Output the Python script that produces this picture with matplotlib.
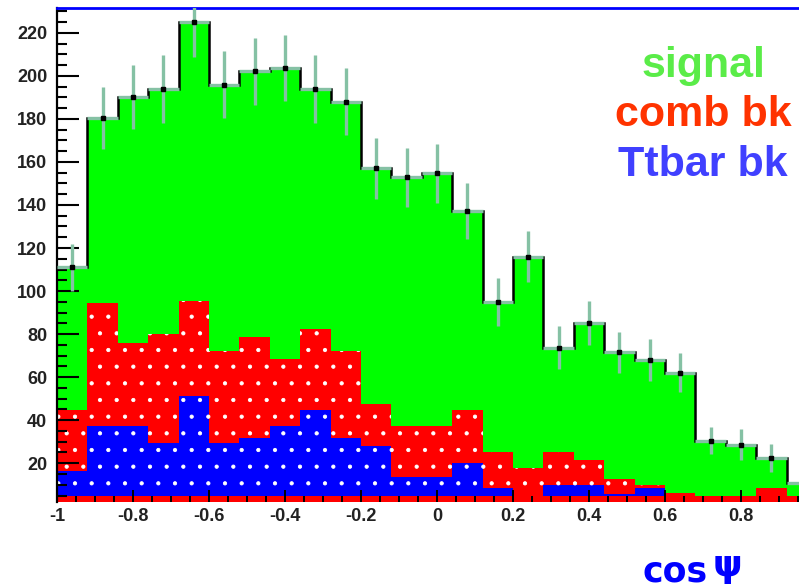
import numpy as np
import matplotlib
matplotlib.use("Agg")
import matplotlib.pyplot as plt
from matplotlib.ticker import FixedLocator, MultipleLocator

# 25 bins of width 0.08 in cos(psi)
edges = np.linspace(-1.0, 1.0, 26)

# signal (total) with error bars
signal = [111, 180.5, 190, 193.8, 225, 195.8, 202, 203.6, 193.8, 188,
          157, 152.9, 154.7, 137.2, 95, 116, 73.6, 85.3, 71.5, 67.9,
          62, 30.5, 28.7, 22.6, 11]
signal_err = [11, 14.4, 14.9, 15.9, 16.1, 15.5, 15.5, 15.5, 15.7, 15.6,
              14.2, 13.7, 13.7, 13.1, 11.1, 11.9, 10, 10.2, 9.5, 9.7,
              9.0, 6.2, 7.0, 6.5, 5.6]
# combinatorial background
comb_bk = [44.7, 94.6, 76, 80, 95.3, 72, 78.6, 68.4, 82.3, 72,
           47.4, 37.2, 37.2, 44.7, 25.1, 17.6, 25.1, 21.4, 12.5, 9.8,
           6.1, 4.7, 4.7, 8.5, 4.7]
# ttbar background
ttbar_bk = [16.3, 37.3, 37.3, 29.5, 51.2, 29.5, 31.8, 37.4, 44.7, 31.8,
            28.1, 13.6, 13.6, 20.0, 8.5, 4.7, 9.8, 9.8, 5.9, 8.5,
            3, 0, 0, 0, 0]

xtick_vals = [-1, -0.8, -0.6, -0.4, -0.2, 0, 0.2, 0.4, 0.6, 0.8]
xtick_labels = ["-1", "-0.8", "-0.6", "-0.4", "-0.2", "0", "0.2", "0.4", "0.6", "0.8"]
ytick_vals = [20, 40, 60, 80, 100, 120, 140, 160, 180, 200, 220]

legend_entries = [("signal", "#5aec48"), ("comb bk", "#ff3300"), ("Ttbar bk", "#4040ff")]

plt.rcParams["hatch.linewidth"] = 0.6

fig = plt.figure(figsize=(7.99, 5.87), dpi=100)
ax = fig.add_axes([57 / 799, 85 / 587, 742 / 799, 494 / 587])

centers = 0.5 * (edges[:-1] + edges[1:])
half_w = 0.5 * np.diff(edges)

# filled histograms
ax.stairs(signal, edges, fill=True, color="#00ff00", baseline=0, zorder=1)
ax.stairs(comb_bk, edges, fill=True, facecolor="#ff0000", edgecolor="white",
          linewidth=0, hatch=".", baseline=0, zorder=1.1)
ax.stairs(ttbar_bk, edges, fill=True, facecolor="#0000ff", edgecolor="white",
          linewidth=0, hatch=".", baseline=0, zorder=1.2)
# red strip along the bottom of the frame
ax.axhspan(0, 4.7, color="#ff0000", lw=0, zorder=1.3)

# black outline of the signal histogram
ax.stairs(signal, edges, color="black", linewidth=1.8, baseline=None, zorder=1.5)

# error bars
ax.errorbar(centers, signal, yerr=signal_err, xerr=half_w, fmt="none",
            ecolor="#85c1a4", elinewidth=2.4, capsize=0, zorder=3)
ax.plot(centers, signal, "s", color="black", ms=2.4, zorder=4)

ax.set_xlim(-1, 0.9526)
ax.set_ylim(2, 231.5)
ax.set_axisbelow(False)

for side in ("right", "bottom"):
    ax.spines[side].set_visible(False)
ax.spines["left"].set_color("black")
ax.spines["left"].set_linewidth(1.6)
ax.spines["top"].set_color("#0000ff")
ax.spines["top"].set_linewidth(2.0)

ax.xaxis.set_major_locator(FixedLocator(xtick_vals))
ax.set_xticklabels(xtick_labels)
ax.xaxis.set_minor_locator(MultipleLocator(0.05))
ax.yaxis.set_major_locator(FixedLocator(ytick_vals))
ax.yaxis.set_minor_locator(MultipleLocator(5))

ax.tick_params(axis="x", which="major", direction="in", length=8.5, width=1.4,
               pad=4, colors="black")
ax.tick_params(axis="x", which="minor", direction="in", length=4.3, width=1.4)
ax.tick_params(axis="y", which="major", direction="in", length=15.5, width=1.5,
               pad=7)
ax.tick_params(axis="y", which="minor", direction="in", length=7, width=1.5)

for lab in ax.get_xticklabels() + ax.get_yticklabels():
    lab.set_fontfamily("Liberation Sans")
    lab.set_fontweight("bold")
    lab.set_fontsize(13)
    lab.set_color("#222222")

# legend text
for i, (txt, col) in enumerate(legend_entries):
    fig.text(703 / 799, (587 - 77 - 49.5 * i) / 587, txt, color=col,
             fontfamily="Liberation Sans", fontweight="bold", fontsize=31,
             ha="center", va="baseline")

# axis title
fig.text(708 / 799, 6 / 587, "cos", color="#0000ff", fontsize=25,
         fontfamily="DejaVu Sans", fontweight="bold", ha="right", va="baseline")
fig.text(713 / 799, (587 - 566) / 587, "\u03c8", color="#0000ff", fontsize=27,
         fontfamily="DejaVu Sans", fontweight="bold", ha="left", va="center")

fig.savefig("out.png", dpi=100)
plt.close(fig)
